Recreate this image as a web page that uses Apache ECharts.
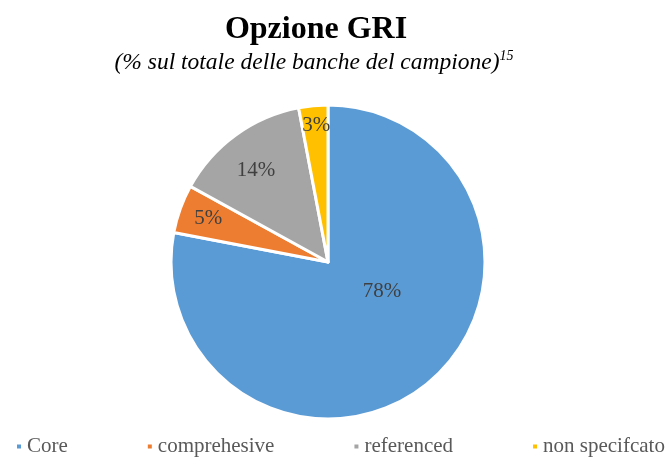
<!DOCTYPE html>
<html lang="it">
<head>
    <meta charset="utf-8">
    <title>Opzione GRI</title>
    <script src="https://cdn.jsdelivr.net/npm/echarts@6/dist/echarts.min.js"></script>
    <style>
        html, body { margin: 0; padding: 0; background: #fff; }
        #main { width: 671px; height: 457px; }
    </style>
</head>
<body>
<div id="main"></div>
<script type="text/javascript">
    // dati
    var categorie = ['Core', 'comprehesive', 'referenced', 'non specifcato'];
    var valori = [78, 5, 14, 3];
    var colori = ['#5B9BD5', '#ED7D31', '#A5A5A5', '#FFC000'];
    // spostamento etichette (come in Excel)
    var spostamenti = [[2, -33], [-43, -16], [-24, -26], [-4, -55]];

    var serif = '"Liberation Serif", "Times New Roman", serif';

    var dati = categorie.map(function (c, i) {
        return { name: c, value: valori[i], itemStyle: { color: colori[i] } };
    });

    var myChart = echarts.init(document.getElementById('main'));

    myChart.setOption({
        animation: false,
        title: [{
            text: 'Opzione GRI',
            left: 311,
            textAlign: 'center',
            top: 9,
            textStyle: {
                fontFamily: serif,
                fontWeight: 'bold',
                fontSize: 32,
                color: '#000'
            }
        }, {
            text: '{a|(% sul totale delle banche del campione)}{s|15}',
            left: 309,
            textAlign: 'center',
            top: 44,
            textStyle: {
                fontWeight: 'normal',
                rich: {
                    a: { fontFamily: serif, fontStyle: 'italic', fontWeight: 'normal', fontSize: 23.5, color: '#000', lineHeight: 28 },
                    s: { fontFamily: serif, fontStyle: 'italic', fontWeight: 'normal', fontSize: 14, color: '#000', verticalAlign: 'top', lineHeight: 28 }
                }
            }
        }],
        legend: {
            data: categorie,
            left: 10,
            top: 431,
            icon: 'rect',
            itemWidth: 6,
            itemHeight: 6,
            itemGap: 78,
            textStyle: { fontFamily: serif, fontSize: 21, color: '#595959' }
        },
        series: [{
            type: 'pie',
            center: [328, 262],
            radius: [0, 157],
            startAngle: 90,
            clockwise: true,
            data: dati,
            itemStyle: { borderColor: '#fff', borderWidth: 3 },
            label: {
                show: true,
                position: 'inside',
                formatter: '{c}%',
                fontFamily: serif,
                fontSize: 21,
                color: '#404040'
            },
            labelLayout: function (params) {
                var s = spostamenti[params.dataIndex];
                return { dx: s[0], dy: s[1] };
            },
            emphasis: { disabled: true }
        }]
    });
</script>
</body>
</html>
